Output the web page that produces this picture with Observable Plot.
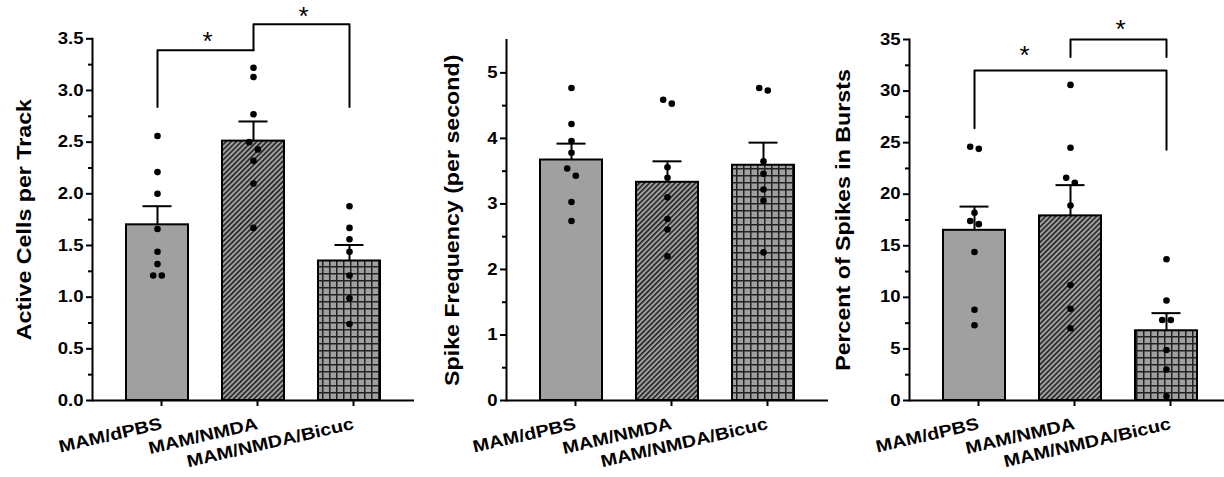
<!DOCTYPE html>
<html><head><meta charset="utf-8">
<script src="https://cdn.jsdelivr.net/npm/d3@7"></script>
<script src="https://cdn.jsdelivr.net/npm/@observablehq/plot@0.6"></script>
<style>
body{margin:0;background:#fff;}
#wrap{position:relative;width:1224px;height:477px;overflow:hidden;background:#fff;}
#wrap > svg{position:absolute;top:0;}
</style></head><body>
<svg width="0" height="0" style="position:absolute">
  <defs>
    <pattern id="hatch" patternUnits="userSpaceOnUse" width="3.6" height="3.6" patternTransform="rotate(45)">
      <rect width="3.6" height="3.6" fill="#a0a0a0"/>
      <line x1="0.8" y1="0" x2="0.8" y2="3.6" stroke="#222" stroke-width="1.6"/>
    </pattern>
    <pattern id="grid" patternUnits="userSpaceOnUse" width="7" height="7">
      <rect width="7" height="7" fill="#a0a0a0"/>
      <line x1="0.75" y1="0" x2="0.75" y2="7" stroke="#222" stroke-width="1.5"/>
      <line x1="0" y1="0.75" x2="7" y2="0.75" stroke="#222" stroke-width="1.5"/>
    </pattern>
  </defs>
</svg>
<div id="wrap"></div>
<script>
// ---------- data ----------
const groups = ["MAM/dPBS", "MAM/NMDA", "MAM/NMDA/Bicuc"];

// Panel A: Active Cells per Track
const activeMeans = [1.70, 2.51, 1.35];
const activeSems  = [0.18, 0.19, 0.155];
const activeDPBS  = [2.56, 2.21, 2.00, 1.66, 1.44, 1.32, 1.21, 1.21];
const activeNMDA  = [3.22, 3.13, 2.77, 2.50, 2.43, 2.32, 2.10, 1.67];
const activeBicuc = [1.88, 1.67, 1.56, 1.44, 1.21, 0.99, 0.74];
const activeTicks = [0, 0.5, 1.0, 1.5, 2.0, 2.5, 3.0, 3.5];

// Panel B: Spike Frequency (per second)
const freqMeans = [3.67, 3.33, 3.59];
const freqSems  = [0.25, 0.32, 0.345];
const freqDPBS  = [4.77, 4.22, 3.96, 3.78, 3.54, 3.43, 3.03, 2.74];
const freqNMDA  = [4.59, 4.53, 3.56, 3.40, 3.10, 2.77, 2.61, 2.20];
const freqBicuc = [4.77, 4.73, 3.65, 3.46, 3.22, 3.05, 2.26];
const freqTicks = [0, 1, 2, 3, 4, 5];

// Panel C: Percent of Spikes in Bursts
const burstMeans = [16.5, 17.9, 6.76];
const burstSems  = [2.3, 2.98, 1.71];
const burstDPBS  = [24.6, 24.4, 18.2, 17.4, 17.1, 14.4, 8.8, 7.3];
const burstNMDA  = [30.6, 24.5, 21.6, 21.1, 18.9, 11.2, 8.9, 7.0];
const burstBicuc = [13.7, 9.7, 7.8, 7.8, 4.9, 3.0, 0.4];
const burstTicks = [0, 5, 10, 15, 20, 25, 30, 35];

// significance brackets: from group, to group, left-leg bottom, top, right-leg bottom
const activeBrackets = [
  {from: "MAM/dPBS", to: "MAM/NMDA", y1: 2.84, top: 3.39, y2: 3.39},
  {from: "MAM/NMDA", to: "MAM/NMDA/Bicuc", y1: 3.39, top: 3.64, y2: 2.84}
];
const activeStars = [{g: "MAM/dPBS", y: 3.47}, {g: "MAM/NMDA", y: 3.71}];
const burstBrackets = [
  {from: "MAM/dPBS", to: "MAM/NMDA/Bicuc", y1: 26.4, top: 32.0, y2: 24.3},
  {from: "MAM/NMDA", to: "MAM/NMDA/Bicuc", y1: 33.3, top: 35.0, y2: 33.3}
];
const burstStars = [{g: "MAM/dPBS", y: 33.4}, {g: "MAM/NMDA", y: 36.0}];

// ---------- styles ----------
const FILLS = ["#a0a0a0", "url(#hatch)", "url(#grid)"];
const FONT = "'Liberation Sans', Arial, Helvetica, sans-serif";

function panel(o) {
  const bars = groups.map((g, i) => ({g, mean: o.means[i], top: o.means[i] + o.sems[i], fill: FILLS[i]}));
  const k = (o.range[0] - o.range[1]) / (o.domain[1] - o.domain[0]);
  // spread overlapping dots sideways
  const pts = [];
  o.points.forEach((vals, i) => {
    const sorted = vals.slice().sort((a, b) => b - a);
    const items = sorted.map(v => ({g: groups[i], v, side: 0}));
    for (let j = 1; j < items.length; j++) {
      if (items[j - 1].side === 0 && (items[j - 1].v - items[j].v) * k < 8) {
        items[j - 1].side = -1; items[j].side = 1;
      }
    }
    pts.push(...items);
  });
  const bl = [];
  (o.brackets || []).forEach((b, i) => {
    bl.push({g: b.from, y: b.y1, z: i}, {g: b.from, y: b.top, z: i}, {g: b.to, y: b.top, z: i}, {g: b.to, y: b.y2, z: i});
  });
  const minor = [];
  for (let j = 0; j < o.ticks.length - 1; j++) minor.push((o.ticks[j] + o.ticks[j + 1]) / 2);
  return Plot.plot({
    width: o.width, height: 477,
    marginLeft: o.left, marginRight: 0, marginTop: o.range[1], marginBottom: 477 - o.range[0],
    style: {fontFamily: FONT, fontWeight: "bold", fontSize: "16px", color: "black", background: "transparent", overflow: "visible"},
    x: {domain: groups, range: o.xRange, padding: 0.354},
    y: {domain: o.domain, range: o.range},
    color: {type: "identity"},
    marks: [
      Plot.barY(bars, {x: "g", y: "mean", fill: "fill", stroke: "black", strokeWidth: 2}),
      Plot.ruleX(bars, {x: "g", y1: "mean", y2: "top", strokeWidth: 2}),
      Plot.tickY(bars, {x: "g", y: "top", strokeWidth: 2, insetLeft: 16.5, insetRight: 16.5}),
      Plot.dot(pts.filter(d => d.side === 0), {x: "g", y: "v", r: 3.3, fill: "black"}),
      Plot.dot(pts.filter(d => d.side === -1), {x: "g", y: "v", r: 3.3, fill: "black", dx: -4.3}),
      Plot.dot(pts.filter(d => d.side === 1), {x: "g", y: "v", r: 3.3, fill: "black", dx: 4.3}),
      Plot.line(bl, {x: "g", y: "y", z: "z", stroke: "black", strokeWidth: 2}),
      Plot.text(o.stars || [], {x: "g", y: "y", text: () => "*", dx: 50, fontSize: 26, fontWeight: "normal", lineAnchor: "middle"}),
      Plot.frame({anchor: "left", strokeWidth: 2}),
      Plot.ruleY([0], {strokeWidth: 2}),
      Plot.axisY(o.ticks, {tickSize: 6, tickPadding: 3, strokeWidth: 2, fontSize: 16, label: null, tickFormat: o.fmt}),
      Plot.axisY(minor, {tickSize: 4, strokeWidth: 2, tickFormat: () => "", label: null}),
      Plot.axisX({tickSize: 6, strokeWidth: 2, tickRotate: -13, fontSize: 17, label: null, tickPadding: 17, dx: 4}),
      Plot.text([o.label], {frameAnchor: "left", text: d => d, rotate: -90, dx: o.labelDx, fontSize: 20, fontWeight: "bold", textAnchor: "middle", lineAnchor: "middle"})
    ]
  });
}

const wrap = document.getElementById("wrap");
const p1 = panel({means: activeMeans, sems: activeSems, points: [activeDPBS, activeNMDA, activeBicuc],
  ticks: activeTicks, fmt: d3.format(".1f"), domain: [0, 3.5], range: [400, 38.3], width: 414, left: 92, xRange: [92, 414],
  brackets: activeBrackets, stars: activeStars, label: "Active Cells per Track", labelDx: -68});
const p2 = panel({means: freqMeans, sems: freqSems, points: [freqDPBS, freqNMDA, freqBicuc],
  ticks: freqTicks, fmt: d3.format("d"), domain: [0, 5.5], range: [400, 39.6], width: 414, left: 92, xRange: [92, 414],
  label: "Spike Frequency (per second)", labelDx: -54});
const p3 = panel({means: burstMeans, sems: burstSems, points: [burstDPBS, burstNMDA, burstBicuc],
  ticks: burstTicks, fmt: d3.format("d"), domain: [0, 35], range: [400, 39], width: 396, left: 81, xRange: [81, 403],
  brackets: burstBrackets, stars: burstStars, label: "Percent of Spikes in Bursts", labelDx: -66});
p1.style.left = "0px"; p2.style.left = "414px"; p3.style.left = "828px";
wrap.append(p1, p2, p3);

// widen glyphs to match the reference's stretched lettering
const STRETCH = 1.16;
wrap.querySelectorAll("svg text").forEach(t => {
  if (t.textContent.trim() === "" || t.textContent === "*") return;
  const len = t.getComputedTextLength();
  if (len > 0) { t.setAttribute("textLength", (len * STRETCH).toFixed(1)); t.setAttribute("lengthAdjust", "spacingAndGlyphs"); }
});
</script>
</body></html>
